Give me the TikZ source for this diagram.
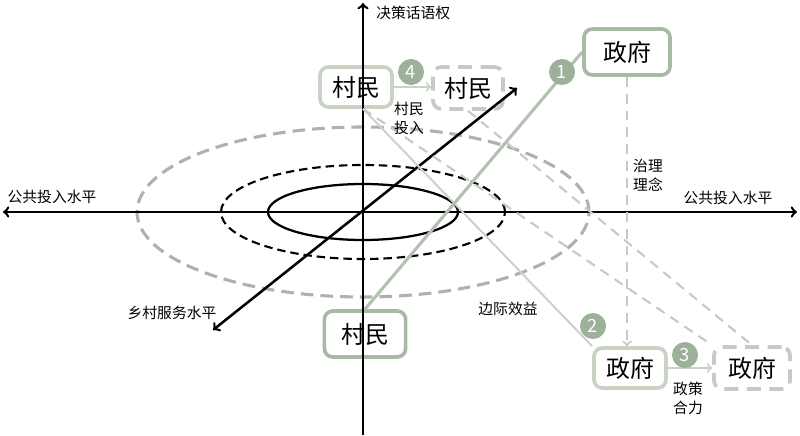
\documentclass[tikz,border=0pt]{standalone}
\usepackage{fontspec}
\setmainfont{Noto Sans CJK SC}
\usetikzlibrary{arrows}
\usepackage{xcolor}
\definecolor{numgreen}{HTML}{9CB09A}
\definecolor{boxgreen}{HTML}{A8BAA5}
\definecolor{palegreen}{HTML}{C8D3C6}
\definecolor{dashgray}{HTML}{C6C9C5}
\definecolor{ellgreen}{HTML}{A9B5A6}
\definecolor{linegreen}{HTML}{B2C1B0}

\begin{document}
\begin{tikzpicture}[x=0.025cm,y=0.025cm,>=to,
    main box/.style={rectangle,rounded corners=6pt,line width=2.6pt,fill=white,
      font=\fontsize{17}{17}\selectfont,inner sep=0pt},
    dark box/.style={main box,draw=boxgreen},
    pale box/.style={main box,draw=palegreen},
    dash box/.style={main box,draw=dashgray,dash pattern=on 10pt off 6pt},
    num node/.style={circle,fill=numgreen,text=white,minimum size=0.65cm,inner sep=0pt,
      font=\fontsize{13}{13}\selectfont},
    small label/.style={align=center,inner sep=0pt,font=\fontsize{10.5}{13.5}\selectfont},
    axis/.style={line width=1.8pt,black},
    pale line/.style={line width=1.4pt,draw=palegreen},
    pale dash/.style={line width=1.5pt,draw=dashgray,dash pattern=on 7pt off 5pt}]
  \useasboundingbox (0,0) rectangle (800,435);

  % Nodes
  \coordinate (O) at (363,223);
  \node[pale box,minimum width=1.8cm,minimum height=1.0cm] (vtl) at (356,348) {村民};
  \node[dash box,minimum width=1.75cm,minimum height=1.05cm] (vtr) at (468,347) {村民};
  \node[dark box,minimum width=2.15cm,minimum height=1.15cm] (gt) at (627,383) {政府};
  \node[dark box,minimum width=2.03cm,minimum height=1.15cm] (vb) at (365,101) {村民};
  \node[pale box,minimum width=1.8cm,minimum height=1.0cm] (gb) at (630,67) {政府};
  \node[dash box,minimum width=1.9cm,minimum height=1.05cm] (gbd) at (752,67) {政府};

  % Ellipses
  \draw[line width=1.6pt] (O) ellipse [x radius=95, y radius=28];
  \draw[line width=1.5pt,dash pattern=on 6pt off 3.5pt] (O) ellipse [x radius=142, y radius=47];
  \draw[line width=2.2pt,ellgreen,dash pattern=on 9pt off 5pt] (O) ellipse [x radius=226, y radius=85];

  % Axes
  \coordinate (top) at (363,432);
  \coordinate (bottom) at (363,0);
  \coordinate (left) at (3,223);
  \coordinate (right) at (797,223);
  \coordinate (ne) at (517,347);
  \coordinate (sw) at (213,105);
  \draw[axis,->] (bottom) -- (top);
  \draw[axis,<->] (left) -- (right);
  \draw[axis,<->] (sw) -- (ne);

  % Edges
  \draw[pale line] (vtl.south -| O) -- (gb.north west);
  \draw[pale dash] (vtl.south -| O) -- (gbd.north west);
  \draw[pale dash] (vtr.south) -- (gbd.north);
  \draw[pale line,->] (vtl.east) -- (vtl.east -| vtr.west);
  \draw[pale line,->] (gb.east) -- (gbd.west);
  \draw[pale dash,->] (gt.south) -- (gt.south |- gb.north);
  \draw[line width=2.2pt,linegreen] (vb.north) -- (gt.west);

  % Numbers
  \node[num node] (n1) at (562,363) {1};
  \node[num node] (n2) at (593,109) {2};
  \node[num node] (n3) at (685,80) {3};
  \node[num node] (n4) at (411,363) {4};

  % Labels
  \node[small label,anchor=west] (power) at (376,422) {决策话语权};
  \node[small label] (pubL) at (52,238) {公共投入水平};
  \node[small label] (pubR) at (728,237) {公共投入水平};
  \node[small label] (serv) at (172,122) {乡村服务水平};
  \node[small label] (vinput) at (409,317) {村民\\投入};
  \node[small label] (idea) at (648,260) {治理\\理念};
  \node[small label] (margin) at (508,126) {边际效益};
  \node[small label] (policy) at (688,37) {政策\\合力};
\end{tikzpicture}
\end{document}
